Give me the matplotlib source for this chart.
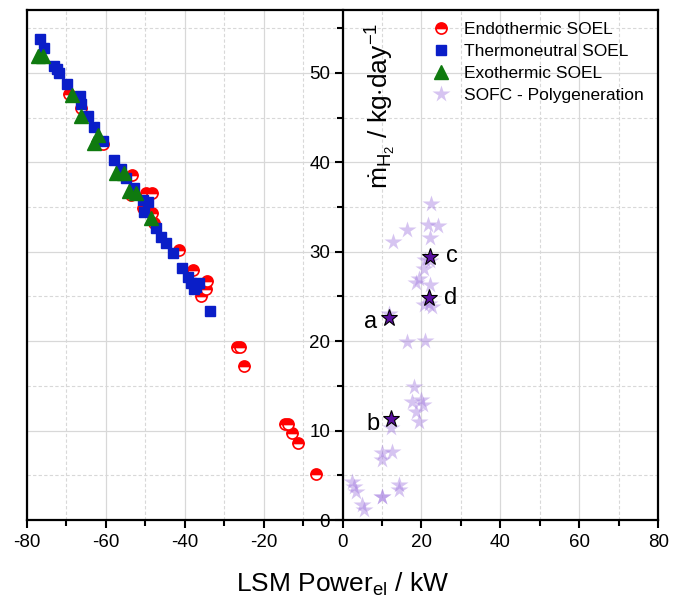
import matplotlib
matplotlib.use("Agg")
import matplotlib.pyplot as plt
from matplotlib.ticker import MultipleLocator

plt.rcParams['font.family'] = ['Liberation Sans', 'DejaVu Sans']
plt.rcParams['mathtext.fontset'] = 'custom'
plt.rcParams['mathtext.rm'] = 'Liberation Sans'
plt.rcParams['mathtext.it'] = 'Liberation Sans:italic'
plt.rcParams['axes.unicode_minus'] = False

# ---- data ----
endo_x = [-69.3, -66.3, -60.6, -53.3, -53.7, -49.9, -48.2, -50.7, -48.2, -47.8, -41.4, -38.0,
          -34.3, -34.7, -35.9, -26.7, -26.1, -25.0, -14.6, -13.9, -12.7, -11.3, -6.7]
endo_y = [47.6, 46.1, 42.0, 38.6, 36.4, 36.6, 36.6, 34.9, 34.3, 33.2, 30.2, 28.0,
          26.7, 25.8, 25.0, 19.4, 19.4, 17.2, 10.8, 10.8, 9.7, 8.6, 5.15]

thermo_x = [-76.7, -75.6, -73.1, -72.4, -71.8, -69.9, -66.5, -66.3, -64.6, -63.0, -60.8, -57.9,
            -56.2, -54.9, -52.8, -50.7, -49.4, -50.3, -47.3, -46.1, -44.8, -43.1, -40.6, -39.3,
            -38.5, -37.2, -36.4, -37.6, -33.7]
thermo_y = [53.8, 52.8, 50.8, 50.4, 50.0, 48.7, 47.4, 46.5, 45.2, 43.9, 42.4, 40.3,
            39.2, 38.3, 37.1, 35.8, 35.6, 34.5, 32.7, 31.7, 31.0, 29.9, 28.2, 27.2,
            26.5, 26.1, 26.5, 25.8, 23.4]

exo_x = [-77.3, -76.0, -68.6, -66.2, -62.1, -63.0, -57.5, -55.4, -54.1, -52.4, -48.6]
exo_y = [51.9, 51.9, 47.5, 45.2, 43.1, 42.2, 38.8, 38.8, 36.8, 36.6, 33.8]

sofc_x = [22.3, 21.6, 24.2, 16.4, 12.8, 22.1, 21.0, 20.6, 18.5, 19.3, 22.1, 20.6, 22.7, 16.4,
          20.8, 11.7, 18.1, 17.6, 19.9, 20.4, 18.5, 19.3, 12.2, 10.0, 10.0, 12.6, 2.5, 2.9,
          3.3, 5.0, 5.4, 10.0, 10.0, 14.3, 14.4, 22.1, 21.9]
sofc_y = [35.3, 33.0, 32.9, 32.4, 31.1, 31.5, 29.1, 28.1, 26.5, 26.9, 26.3, 24.0, 23.8, 19.9,
          20.0, 23.0, 14.9, 13.2, 13.4, 12.9, 12.1, 11.0, 10.3, 7.5, 6.7, 7.6, 4.3, 3.7,
          3.2, 1.7, 1.1, 2.6, 2.6, 3.9, 3.4, 29.0, 24.2]

sel_labels = ['a', 'b', 'c', 'd']
sel_x = [11.7, 12.2, 22.1, 21.9]
sel_y = [22.6, 11.3, 29.4, 24.8]
lab_x = [7.1, 7.7, 27.8, 27.3]
lab_y = [22.2, 10.8, 29.5, 24.8]

x_ticks = [-80, -60, -40, -20, 0, 20, 40, 60, 80]
y_ticks = [0, 10, 20, 30, 40, 50]

# ---- figure ----
fig = plt.figure(figsize=(6.73, 6.02), dpi=100)
ax = fig.add_axes([0.040, 0.136, 0.938, 0.847])

ax.set_xlim(-80, 80)
ax.set_ylim(0, 57)

ax.plot(endo_x, endo_y, linestyle='none', marker='o', ms=8, color='red',
        fillstyle='top', markerfacecoloralt='white', mec='red', mew=1.2,
        label='Endothermic SOEL', zorder=3)
ax.plot(thermo_x, thermo_y, linestyle='none', marker='s', ms=7.5, color='#0a1ec8',
        mec='#0a1ec8', label='Thermoneutral SOEL', zorder=4)
ax.plot(exo_x, exo_y, linestyle='none', marker='^', ms=10.5, color='#0f7a0f',
        mec='#0f7a0f', label='Exothermic SOEL', zorder=5)
ax.plot(sofc_x, sofc_y, linestyle='none', marker='*', ms=13, color='#a57ee0',
        mec='none', alpha=0.45, label='SOFC - Polygeneration', zorder=3)
ax.plot(sel_x, sel_y, linestyle='none', marker='*', ms=12.5, color='#5a0fa0',
        mec='black', mew=0.8, zorder=6)
for t, lx, ly in zip(sel_labels, lab_x, lab_y):
    ax.text(lx, ly, t, fontsize=17, ha='center', va='center')

# spines
ax.spines['left'].set_position(('data', 0))
ax.spines['bottom'].set_position(('data', 0))
for s in ['left', 'bottom', 'top', 'right']:
    ax.spines[s].set_linewidth(1.6)
ax.axvline(-80, color='black', lw=1.6, clip_on=False, zorder=7)

ax.set_xticks(x_ticks)
ax.set_yticks(y_ticks)
ax.xaxis.set_minor_locator(MultipleLocator(10))
ax.yaxis.set_minor_locator(MultipleLocator(5))
ax.tick_params(axis='both', which='major', direction='out', length=6, width=1.5,
               labelsize=13.5)
ax.tick_params(axis='both', which='minor', direction='out', length=4, width=1.5)
ax.tick_params(axis='x', pad=4)
ax.tick_params(axis='y', pad=3)

ax.grid(which='major', color='#d8d8d8', lw=0.9, ls='-')
ax.grid(which='minor', color='#d8d8d8', lw=0.8, ls=(0, (3, 2)))
ax.set_axisbelow(True)

ax.set_xlabel(r'LSM Power$_{\mathrm{el}}$ / kW', fontsize=19, labelpad=14)
ax.text(9.6, 46.3, r'$\dot{\mathrm{m}}_{\mathrm{H}_2}$ / kg$\cdot$day$^{\mathrm{-1}}$',
        rotation=90, fontsize=19, ha='center', va='center')

leg = ax.legend(loc='upper right', frameon=False, fontsize=12.5, handletextpad=0.7,
                labelspacing=0.4, borderaxespad=0.25, handlelength=1.2,
                bbox_to_anchor=(0.995, 1.0))

fig.savefig('out.png', dpi=100)
